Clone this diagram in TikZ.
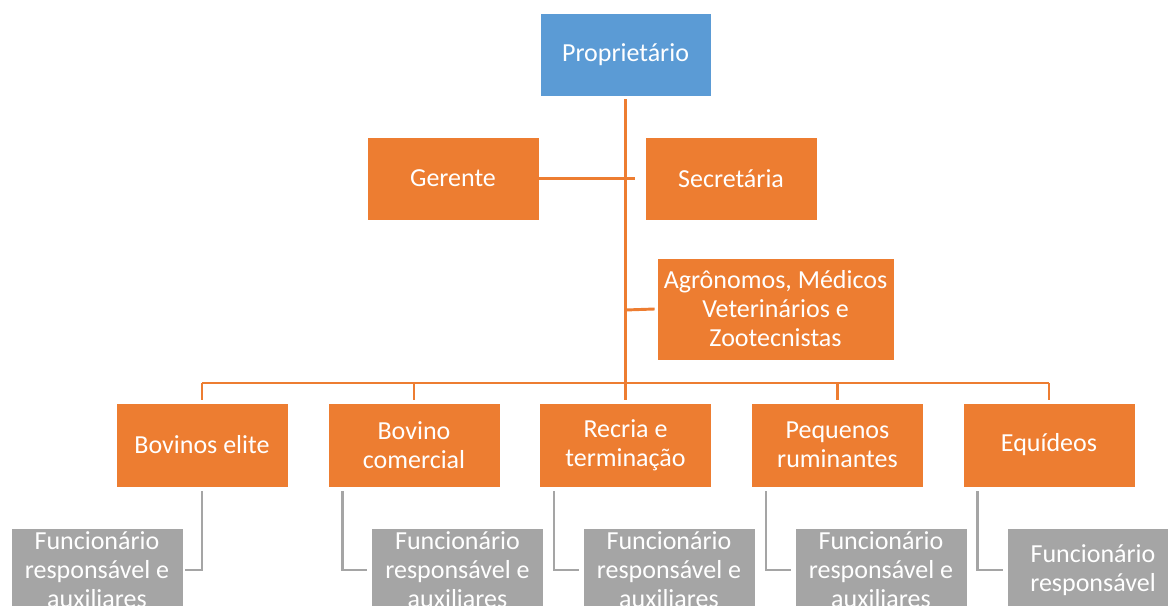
\documentclass[tikz,border=0pt]{standalone}
\usepackage{fontspec}
\setmainfont{Carlito}
\definecolor{cblue}{HTML}{5B9BD5}
\definecolor{corange}{HTML}{ED7D31}
\definecolor{cgray}{HTML}{A5A5A5}
\tikzset{
  box/.style={draw=white, line width=0.6pt, text=white, align=center, inner sep=0pt,
    font=\fontsize{19.5}{21.75}\selectfont, minimum width=172*0.75pt, minimum height=84*0.75pt},
  bluebox/.style={box, fill=cblue},
  orangebox/.style={box, fill=corange},
  graybox/.style={box, fill=cgray},
  oline/.style={draw=corange, line width=2.2pt},
  gline/.style={draw=cgray, line width=2pt},
}
\begin{document}
\begin{tikzpicture}[x=0.75pt, y=-0.75pt]
\useasboundingbox (0,0) rectangle (1168,606);
\clip (0,0) rectangle (1168,606);
% nodes
\node[bluebox, minimum width=171*0.75pt, minimum height=83*0.75pt] (prop) at (625.5,54.5) {Propriet\'ario};
\node[orangebox, minimum height=83*0.75pt] (ger) at (453,178.5) {Gerente};
\node[orangebox, minimum height=83*0.75pt] (sec) at (731,178.5) {Secret\'aria};
\node[orangebox, minimum width=237*0.75pt, minimum height=102*0.75pt] (agr) at (775.5,309) {Agr\^onomos, M\'edicos\\Veterin\'arios e\\Zootecnistas};
\node[orangebox] (b1) at (202,445) {Bovinos elite};
\node[orangebox] (b2) at (414,445) {Bovino\\comercial};
\node[orangebox] (b3) at (625.5,445) {Recria e\\termina\c{c}\~ao};
\node[orangebox] (b4) at (837.5,445) {Pequenos\\ruminantes};
\node[orangebox] (b5) at (1049,445) {Equ\'ideos};
\node[graybox] (g1) at (97,570) {Funcion\'ario\\respons\'avel e\\auxiliares};
\node[graybox] (g2) at (457.5,570) {Funcion\'ario\\respons\'avel e\\auxiliares};
\node[graybox] (g3) at (669,570) {Funcion\'ario\\respons\'avel e\\auxiliares};
\node[graybox] (g4) at (881,570) {Funcion\'ario\\respons\'avel e\\auxiliares};
\node[graybox] (g5) at (1093,570) {Funcion\'ario\\respons\'avel};
% coordinates
\coordinate (bus) at (625.5,383);
% orange connectors
\draw[oline] ([yshift=-3*0.75pt]prop.south) -- (bus);
\draw[oline] ([xshift=-2*0.75pt]ger.east) -- ([xshift=-10*0.75pt]sec.west);
\draw[oline] (625.5,310) -- ([xshift=-2*0.75pt]agr.west);
\draw[oline] (202,383) -- (1049,383);
\foreach \b in {b1,b2,b3,b4,b5}{
  \draw[oline] (\b.north |- bus) -- ([yshift=3*0.75pt]\b.north);
}
% gray connectors
\draw[gline] ([yshift=-4*0.75pt]b1.south) |- ([xshift=2*0.75pt]g1.east);
\draw[gline] ([xshift=15*0.75pt, yshift=-4*0.75pt]b2.south west) |- ([xshift=-4*0.75pt]g2.west);
\draw[gline] ([xshift=15*0.75pt, yshift=-4*0.75pt]b3.south west) |- ([xshift=-4*0.75pt]g3.west);
\draw[gline] ([xshift=15*0.75pt, yshift=-4*0.75pt]b4.south west) |- ([xshift=-4*0.75pt]g4.west);
\draw[gline] ([xshift=15*0.75pt, yshift=-4*0.75pt]b5.south west) |- ([xshift=-4*0.75pt]g5.west);
\end{tikzpicture}
\end{document}
